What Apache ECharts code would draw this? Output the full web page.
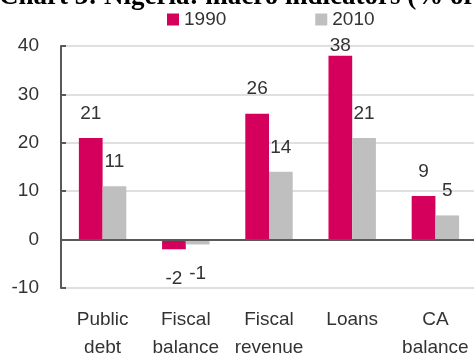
<!DOCTYPE html>
<html>
<head>
<meta charset="utf-8">
<script src="https://cdn.jsdelivr.net/npm/echarts@6/dist/echarts.min.js"></script>
<style>
  html, body { margin: 0; padding: 0; background: #ffffff; }
  #chart { width: 474px; height: 358px; }
</style>
</head>
<body>
<div id="chart"></div>
<script>
// Chart text and values
const chartTitle = 'Chart 3: Nigeria: macro indicators (% of GDP)';
const categories = ['Public\ndebt', 'Fiscal\nbalance', 'Fiscal\nrevenue', 'Loans', 'CA\nbalance'];
const seriesNames = ['1990', '2010'];
const values1990 = [21, -2, 26, 38, 9];
const values2010 = [11, -1, 14, 21, 5];
const yMin = -10;
const yMax = 40;
const yStep = 10;

const PINK = '#d4005c';
const GREY = '#bfbfbf';
const TEXT = '#333333';
const AXIS = '#595959';
const FONT = 'Liberation Sans, Arial, sans-serif';
const FS = 19;

// Labels sit above positive bars, below negative ones; the tallest bar keeps its label tight
function toBarData(vals) {
  return vals.map(function (v) {
    if (v < 0) return { value: v, label: { position: 'bottom', distance: 20 } };
    if (v > yMax - 5) return { value: v, label: { position: 'top', distance: 0 } };
    return { value: v };
  });
}

const barLabel = {
  show: true,
  position: 'top',
  distance: 15,
  color: TEXT,
  fontSize: FS,
  fontFamily: FONT
};

const chart = echarts.init(document.getElementById('chart'), null, { renderer: 'canvas' });

chart.setOption({
  animation: false,
  backgroundColor: '#ffffff',
  title: {
    text: chartTitle,
    left: -1,
    top: -16,
    padding: 0,
    textStyle: {
      fontFamily: 'Liberation Serif, Times New Roman, serif',
      fontWeight: 'bold',
      fontSize: 27,
      color: '#000000'
    }
  },
  legend: {
    data: seriesNames,
    left: 167,
    top: 10,
    padding: 0,
    icon: 'rect',
    itemWidth: 12,
    itemHeight: 12,
    itemGap: 89,
    itemStyle: { borderWidth: 0 },
    textStyle: { color: TEXT, fontSize: FS, fontFamily: FONT }
  },
  grid: { left: 61, right: -3, top: 46, bottom: 70, containLabel: false, outerBoundsMode: 'none' },
  xAxis: {
    type: 'category',
    data: categories,
    axisLine: { show: false },
    axisTick: { show: false },
    splitLine: { show: false },
    axisLabel: {
      interval: 0,
      color: TEXT,
      fontSize: FS,
      lineHeight: 28,
      fontFamily: FONT,
      margin: 18
    }
  },
  yAxis: {
    type: 'value',
    min: yMin,
    max: yMax,
    interval: yStep,
    axisLine: { show: true, lineStyle: { color: AXIS, width: 2 } },
    axisTick: { show: true, inside: true, length: 5, lineStyle: { color: AXIS, width: 2 } },
    splitLine: { show: true, lineStyle: { color: '#e0e0e0', width: 2 } },
    axisLabel: { color: TEXT, fontSize: FS, fontFamily: FONT, margin: 22 }
  },
  series: [
    {
      name: seriesNames[0],
      type: 'bar',
      data: toBarData(values1990),
      itemStyle: { color: PINK },
      barGap: '0%',
      barCategoryGap: '43%',
      label: barLabel,
      markLine: {
        silent: true,
        symbol: 'none',
        label: { show: false },
        lineStyle: { color: AXIS, width: 2, type: 'solid' },
        data: [{ yAxis: 0 }]
      }
    },
    {
      name: seriesNames[1],
      type: 'bar',
      data: toBarData(values2010),
      itemStyle: { color: GREY },
      barGap: '0%',
      barCategoryGap: '43%',
      label: barLabel
    }
  ]
});
</script>
</body>
</html>
